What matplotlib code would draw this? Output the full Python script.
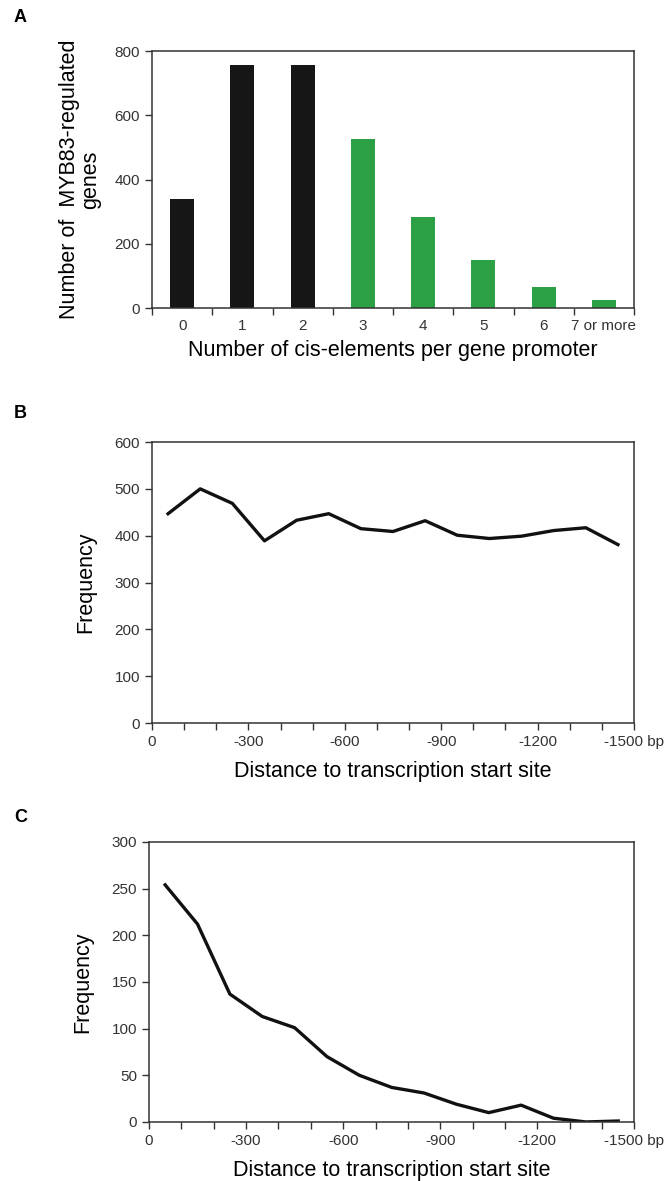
import numpy as np
import matplotlib
matplotlib.use("Agg")
import matplotlib.pyplot as plt

plt.rcParams['font.family'] = ['Liberation Sans', 'DejaVu Sans']

# Panel A data
cis_labels = ["0", "1", "2", "3", "4", "5", "6", "7 or more"]
gene_counts = [339, 755, 757, 526, 284, 149, 66, 25]
bar_colors = ["#161616"] * 3 + ["#2ca044"] * 5

# Panel B / C data (bin centres, bp upstream of TSS)
tss_dist = [-50, -150, -250, -350, -450, -550, -650, -750, -850, -950,
            -1050, -1150, -1250, -1350, -1450]
freq_b = [447, 500, 469, 389, 433, 447, 415, 409, 432, 401, 394, 399, 411, 417, 381]
freq_c = [254, 212, 137, 113, 101, 70, 50, 37, 31, 19, 10, 18, 4, 0, 1]

dist_ticks = list(range(0, -1501, -100))
dist_labels = [("-1500 bp" if t == -1500 else str(t)) if t % 300 == 0 else "" for t in dist_ticks]

tick_size = 11
tick_col = "#333333"
lab_size = 15.5
spine_col = "#333333"

fig = plt.figure(figsize=(6.65, 11.81), dpi=100)


def style_axes(ax):
    for s in ax.spines.values():
        s.set_color(spine_col)
        s.set_linewidth(1.1)
    ax.tick_params(direction="out", color=spine_col, width=1.0, length=5,
                   labelsize=tick_size, labelcolor=tick_col)


# ---------------- A ----------------
axA = fig.add_axes([0.2286, 0.7392, 0.7248, 0.2176])
xpos = np.arange(len(cis_labels))
axA.bar(xpos, gene_counts, width=0.4, color=bar_colors)
axA.set_xlim(-0.5, len(cis_labels) - 0.5)
axA.set_ylim(0, 800)
axA.set_yticks([0, 200, 400, 600, 800])
axA.set_xticks(np.arange(-0.5, len(cis_labels)), [""] * (len(cis_labels) + 1))
axA.set_xticks(xpos, cis_labels, minor=True)
style_axes(axA)
axA.tick_params(axis="x", which="minor", length=0, pad=8,
                labelsize=tick_size, labelcolor=tick_col)
axA.set_xlabel("Number of cis-elements per gene promoter", fontsize=lab_size, labelpad=5)
axA.set_ylabel("Number of  MYB83-regulated\ngenes", fontsize=lab_size, labelpad=10,
               linespacing=1.0)

# ---------------- B ----------------
axB = fig.add_axes([0.2286, 0.3878, 0.7248, 0.2379])
axB.plot(tss_dist, freq_b, color="#111111", lw=2.4)
axB.set_xlim(0, -1500)
axB.set_ylim(0, 600)
axB.set_yticks(range(0, 601, 100))
axB.set_xticks(dist_ticks, dist_labels)
style_axes(axB)
axB.set_xlabel("Distance to transcription start site", fontsize=lab_size, labelpad=9)
axB.set_ylabel("Frequency", fontsize=lab_size, labelpad=13)

# ---------------- C ----------------
axC = fig.add_axes([0.224, 0.05, 0.7300, 0.2371])
axC.plot(tss_dist, freq_c, color="#111111", lw=2.4)
axC.set_xlim(0, -1500)
axC.set_ylim(0, 300)
axC.set_yticks(range(0, 301, 50))
axC.set_xticks(dist_ticks, dist_labels)
style_axes(axC)
axC.set_xlabel("Distance to transcription start site", fontsize=lab_size, labelpad=9)
axC.set_ylabel("Frequency", fontsize=lab_size, labelpad=13)

# panel letters
for letter, ypix in [("A", 18), ("B", 413), ("C", 818)]:
    fig.text(14 / 665, 1 - ypix / 1181, letter, fontsize=13, fontweight="bold",
             va="center", ha="left")

fig.savefig("out.png", dpi=100)
